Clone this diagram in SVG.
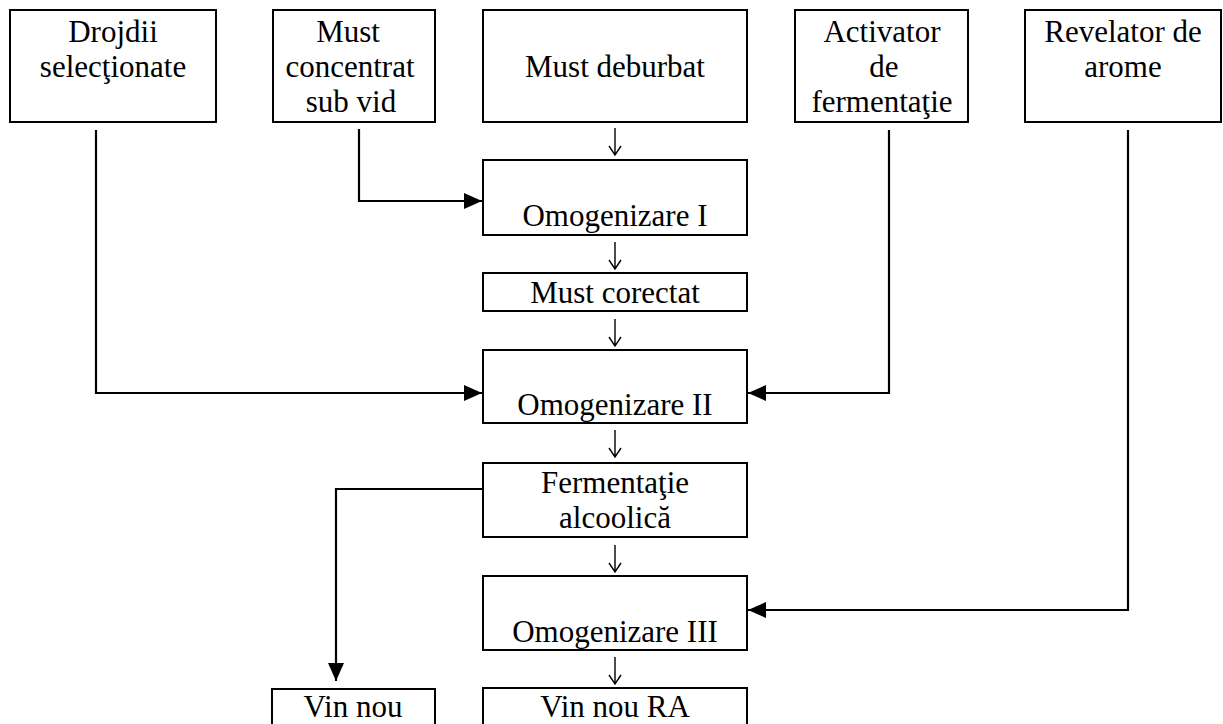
<svg xmlns="http://www.w3.org/2000/svg" width="1223" height="724" viewBox="0 0 1223 724">
  <style>
    .box { fill: #fff; stroke: #000; stroke-width: 2; }
    .lbl { font-family: "Liberation Serif", "Times New Roman", serif; font-size: 31px; fill: #000; text-anchor: middle; }
    .link { fill: none; stroke: #000; stroke-width: 2.2; }
    .down { fill: none; stroke: #000; stroke-width: 1.4; }
  </style>
  <defs>
    <marker id="head" markerUnits="userSpaceOnUse" viewBox="0 0 18 16" refX="18" refY="8" markerWidth="18" markerHeight="16" orient="auto">
      <path d="M0,0 L18,8 L0,16 Z" fill="#000"/>
    </marker>
    <!-- small open arrow used between the steps of the main column -->
    <path id="step" d="M0,0 V27 M-6,18 L0,27 L6,18"/>
  </defs>
  <rect width="1223" height="724" fill="#fff"/>

  <!-- inputs, top row -->
  <g id="drojdii">
    <rect class="box" x="10" y="10" width="206" height="112"/>
    <text class="lbl" x="113" y="42">Drojdii</text>
    <text class="lbl" x="113" y="77">selecţionate</text>
  </g>
  <g id="must-concentrat">
    <rect class="box" x="273" y="10" width="162" height="112"/>
    <text class="lbl" x="348" y="42">Must</text>
    <text class="lbl" x="350" y="77">concentrat</text>
    <text class="lbl" x="351" y="112">sub vid</text>
  </g>
  <g id="must-deburbat">
    <rect class="box" x="483" y="10" width="264" height="112"/>
    <text class="lbl" x="615" y="77">Must deburbat</text>
  </g>
  <g id="activator">
    <rect class="box" x="795" y="10" width="173" height="112"/>
    <text class="lbl" x="882" y="42">Activator</text>
    <text class="lbl" x="884" y="77">de</text>
    <text class="lbl" x="882" y="112">fermentaţie</text>
  </g>
  <g id="revelator">
    <rect class="box" x="1025" y="10" width="196" height="112"/>
    <text class="lbl" x="1123" y="42">Revelator de</text>
    <text class="lbl" x="1123" y="77">arome</text>
  </g>

  <!-- main process column -->
  <g id="omogenizare-1">
    <rect class="box" x="483" y="160" width="264" height="75"/>
    <text class="lbl" x="615" y="226">Omogenizare I</text>
  </g>
  <g id="must-corectat">
    <rect class="box" x="483" y="273" width="264" height="38"/>
    <text class="lbl" x="615" y="303">Must corectat</text>
  </g>
  <g id="omogenizare-2">
    <rect class="box" x="483" y="350" width="264" height="73"/>
    <text class="lbl" x="615" y="415">Omogenizare II</text>
  </g>
  <g id="fermentatie">
    <rect class="box" x="483" y="463" width="264" height="74"/>
    <text class="lbl" x="615" y="493">Fermentaţie</text>
    <text class="lbl" x="615" y="528">alcoolică</text>
  </g>
  <g id="omogenizare-3">
    <rect class="box" x="483" y="576" width="264" height="74"/>
    <text class="lbl" x="615" y="642">Omogenizare III</text>
  </g>
  <g id="vin-nou-ra">
    <rect class="box" x="483" y="688" width="264" height="60"/>
    <text class="lbl" x="615" y="717">Vin nou RA</text>
  </g>
  <g id="vin-nou">
    <rect class="box" x="272" y="689" width="163" height="60"/>
    <text class="lbl" x="353" y="717">Vin nou</text>
  </g>

  <!-- connectors -->
  <g id="connectors">
    <use href="#step" class="down" x="615" y="128"/>
    <use href="#step" class="down" x="615" y="242"/>
    <use href="#step" class="down" x="615" y="319"/>
    <use href="#step" class="down" x="615" y="430"/>
    <use href="#step" class="down" x="615" y="545"/>
    <use href="#step" class="down" x="615" y="657"/>
    <path class="link" d="M96,130 V393 H482" marker-end="url(#head)"/>
    <path class="link" d="M359,129 V201 H482" marker-end="url(#head)"/>
    <path class="link" d="M889,130 V393 H748" marker-end="url(#head)"/>
    <path class="link" d="M1128,130 V610 H748" marker-end="url(#head)"/>
    <path class="link" d="M483,489 H336 V681" marker-end="url(#head)"/>
  </g>
</svg>
